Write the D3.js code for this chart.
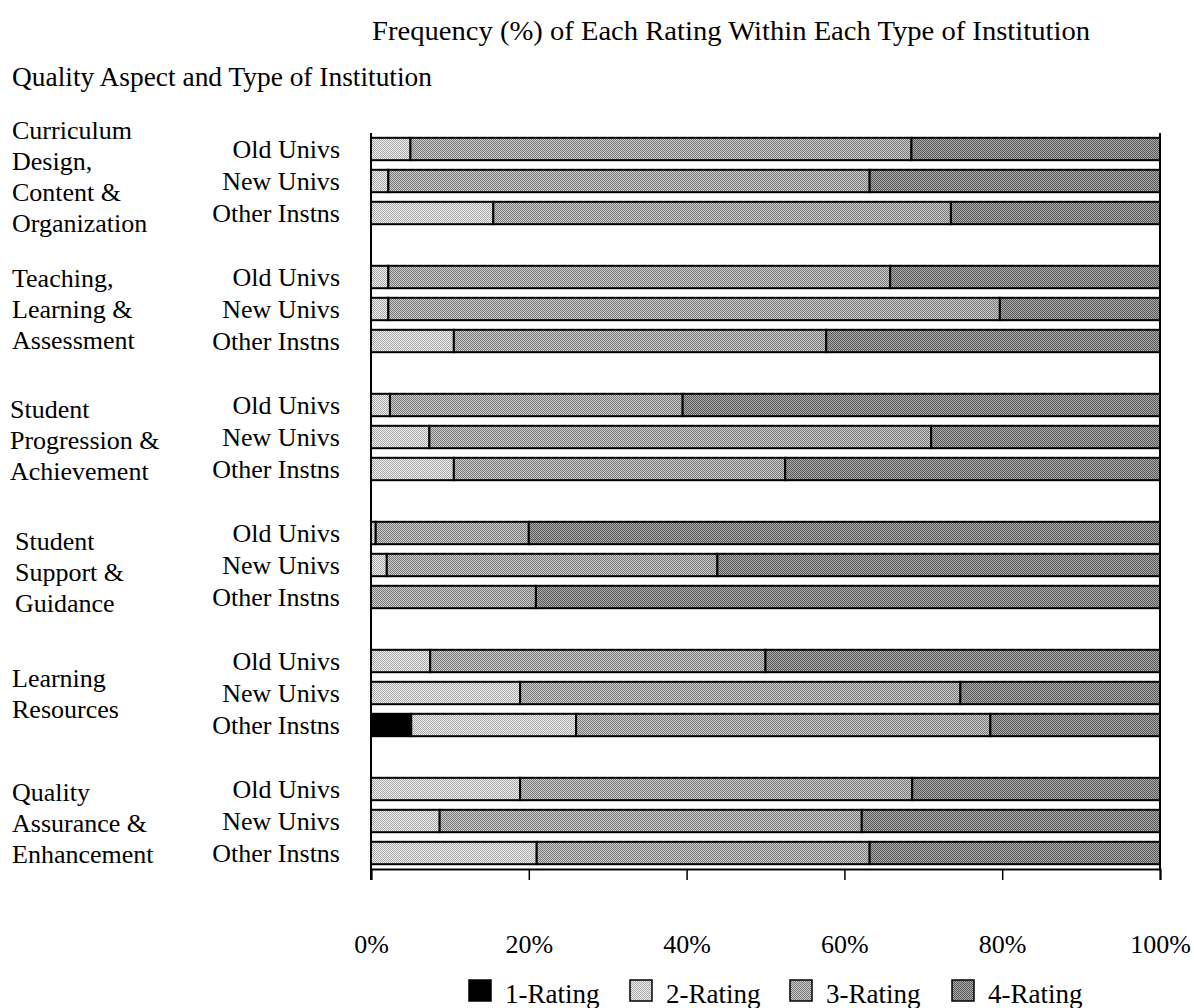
<!DOCTYPE html>
<html><head><meta charset="utf-8">
<script src="https://cdn.jsdelivr.net/npm/d3@7"></script>
<style>
html,body{margin:0;padding:0;background:#fff;}
svg{display:block;font-family:"Liberation Serif","Times New Roman",serif;}
</style></head>
<body><svg id="chart" width="1194" height="1008"></svg>
<script>
// ---- data ----
const aspects = [
  ["Curriculum","Design,","Content &","Organization"],
  ["Teaching,","Learning &","Assessment"],
  ["Student","Progression &","Achievement"],
  ["Student","Support &","Guidance"],
  ["Learning","Resources"],
  ["Quality","Assurance &","Enhancement"]
];
const institutions = ["Old Univs","New Univs","Other Instns"];
const ratings = ["1-Rating","2-Rating","3-Rating","4-Rating"];
// one value per (aspect, institution), in order
const rating1 = [0,0,0, 0,0,0, 0,0,0, 0,0,0, 0,0,5.1, 0,0,0];
const rating2 = [5,2.2,15.5, 2.2,2.2,10.5, 2.4,7.4,10.5, 0.6,2,0, 7.5,18.9,20.9, 18.9,8.7,21];
const rating3 = [63.5,61,58, 63.6,77.5,47.2, 37.1,63.6,42, 19.4,41.9,20.9, 42.5,55.8,52.5, 49.7,53.5,42.2];
const rating4 = [31.5,36.8,26.5, 34.2,20.3,42.3, 60.5,29,47.5, 80,56.1,79.1, 50,25.3,21.5, 31.4,37.8,36.8];
const tickValues = [0,20,40,60,80,100];
const tickLabels = ["0%","20%","40%","60%","80%","100%"];
const titleText = "Frequency (%) of Each Rating Within Each Type of Institution";
const yTitleText = "Quality Aspect and Type of Institution";

// ---- build rows ----
const rows = [];
const slots = [];
aspects.forEach((a, gi) => {
  institutions.forEach((inst, ii) => {
    const k = gi*3+ii;
    const key = "r"+k;
    slots.push(key);
    rows.push({key, g: gi, inst, vals:[rating1[k],rating2[k],rating3[k],rating4[k]]});
  });
  if (gi < aspects.length-1) slots.push("gap"+gi);
});

const svg = d3.select("#chart");
const pLeft = 371, pRight = 1160, pTop = 133, pBottom = 869;
const x = d3.scaleLinear().domain([0,100]).range([pLeft,pRight]);
const y = d3.scaleBand().domain(slots).range([pTop,pBottom]).paddingInner(0.3).paddingOuter(0.15);

// patterns
const defs = svg.append("defs");
const pats = [
  {id:"p1", a:"#000", b:"#000"},
  {id:"p2", a:"#f0f0f0", b:"#a8a8a8"},
  {id:"p3", a:"#cccccc", b:"#787878"},
  {id:"p4", a:"#ababab", b:"#585858"}
];
pats.forEach(p => {
  const pt = defs.append("pattern").attr("id",p.id).attr("patternUnits","userSpaceOnUse")
    .attr("width",2).attr("height",2);
  pt.append("rect").attr("width",2).attr("height",2).attr("fill",p.a);
  pt.append("rect").attr("width",1).attr("height",1).attr("fill",p.b);
  pt.append("rect").attr("x",1).attr("y",1).attr("width",1).attr("height",1).attr("fill",p.b);
});

// titles
svg.append("text").attr("x",372).attr("y",40).attr("font-size",28).attr("textLength",718)
  .attr("lengthAdjust","spacingAndGlyphs").text(titleText);
svg.append("text").attr("x",12).attr("y",86).attr("font-size",27).attr("textLength",420)
  .attr("lengthAdjust","spacingAndGlyphs").text(yTitleText);

// bars
const gBars = svg.append("g");
rows.forEach(r => {
  let cum = 0;
  r.vals.forEach((v,i) => {
    if (v > 0) {
      gBars.append("rect")
        .attr("x", x(cum)).attr("y", y(r.key))
        .attr("width", x(cum+v)-x(cum)).attr("height", y.bandwidth())
        .attr("fill", "url(#p"+(i+1)+")")
        .attr("stroke","#000").attr("stroke-width",2);
    }
    cum += v;
  });
});

// frame
svg.append("line").attr("x1",pLeft).attr("x2",pLeft).attr("y1",pTop).attr("y2",pBottom+11).attr("stroke","#000").attr("stroke-width",2);
svg.append("line").attr("x1",pRight).attr("x2",pRight).attr("y1",pTop).attr("y2",pBottom).attr("stroke","#000").attr("stroke-width",2);

// axis
const ax = svg.append("g").attr("transform",`translate(0,${pBottom})`)
  .call(d3.axisBottom(x).tickValues(tickValues).tickSize(11).tickPadding(55)
    .tickFormat((d,i)=>tickLabels[i]));
ax.select(".domain").attr("stroke","#000").attr("stroke-width",2);
ax.selectAll(".tick line").attr("stroke","#000").attr("stroke-width",1.5);
ax.selectAll(".tick text").attr("font-size",26).attr("fill","#000")
  .attr("font-family","Liberation Serif");

// row labels
rows.forEach(r => {
  svg.append("text").attr("x",340).attr("y",y(r.key)+y.bandwidth()/2)
    .attr("dy","0.35em").attr("text-anchor","end").attr("font-size",26).text(r.inst);
});

// group labels
const gx = [12,12,10,15,12,12];
const gShift = [-5,0,3,7,0,2];
aspects.forEach((lines, gi) => {
  const c = y("r"+(gi*3+1)) + y.bandwidth()/2 + gShift[gi];
  const lh = 31;
  const n = lines.length;
  lines.forEach((t, li) => {
    svg.append("text").attr("x",gx[gi]).attr("y", c + (li-(n-1)/2)*lh)
      .attr("dy","0.35em").attr("font-size",26).text(t);
  });
});

// legend
const legX = [469, 630, 790, 952];
const lg = svg.append("g");
ratings.forEach((r,i) => {
  lg.append("rect").attr("x",legX[i]).attr("y",980).attr("width",22).attr("height",21)
    .attr("fill","url(#p"+(i+1)+")").attr("stroke","#000").attr("stroke-width",1.5);
  lg.append("text").attr("x",legX[i]+36).attr("y",1003).attr("font-size",27).text(r);
});
</script></body></html>
